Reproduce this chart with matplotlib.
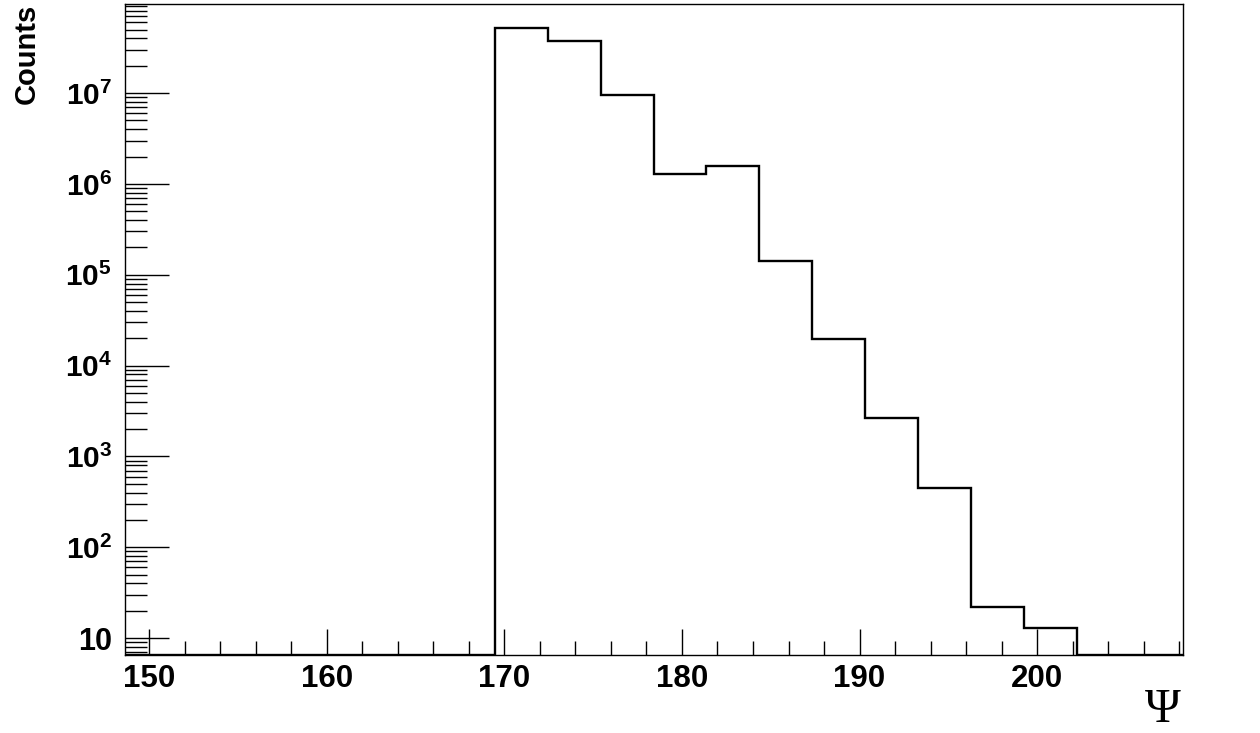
import numpy as np
import matplotlib
matplotlib.use("Agg")
import matplotlib.pyplot as plt
from matplotlib.ticker import LogLocator, MultipleLocator, NullFormatter

plt.rcParams['font.family'] = ['Liberation Sans', 'DejaVu Sans']
plt.rcParams['font.weight'] = 'bold'
plt.rcParams['mathtext.fontset'] = 'custom'
plt.rcParams['mathtext.rm'] = 'Liberation Sans:bold'
plt.rcParams['mathtext.bf'] = 'Liberation Sans:bold'
plt.rcParams['mathtext.it'] = 'Liberation Sans:bold'

# Data
x_min, x_max, n_bins = 148.62, 208.18, 20
counts = [0, 0, 0, 0, 0, 0, 0,
          5.22e7, 3.73e7, 9.44e6, 1.28e6, 1.58e6, 1.43e5, 1.97e4,
          2.64e3, 444, 22, 13, 0, 0]
x_ticks = [150, 160, 170, 180, 190, 200]
y_ticks = [1e1, 1e2, 1e3, 1e4, 1e5, 1e6, 1e7]
y_tick_labels = ['10', r'$10^{2}$', r'$10^{3}$', r'$10^{4}$', r'$10^{5}$',
                 r'$10^{6}$', r'$10^{7}$']
y_min, y_max = 6.6, 9.7e7

edges = np.linspace(x_min, x_max, n_bins + 1)
vals = np.array(counts, dtype=float)
vals = np.where(vals > 0, vals, y_min)

fig = plt.figure(figsize=(12.6, 7.33), dpi=100)
ax = fig.add_axes([124.5 / 1260, 1 - 654.5 / 733, (1182.5 - 124.5) / 1260, (654.5 - 3.5) / 733])

ax.stairs(vals, edges, baseline=None, color='black', linewidth=1.7)

ax.set_yscale('log')
ax.set_xlim(x_min, x_max)
ax.set_ylim(y_min, y_max)

ax.set_xticks(x_ticks, [str(t) for t in x_ticks])
ax.xaxis.set_minor_locator(MultipleLocator(2))
ax.set_yticks(y_ticks, y_tick_labels)
ax.yaxis.set_minor_locator(LogLocator(base=10, subs=np.arange(2, 10), numticks=20))
ax.yaxis.set_minor_formatter(NullFormatter())

ax.tick_params(axis='both', which='both', direction='in', colors='black', width=1)
ax.tick_params(axis='x', which='major', length=19, pad=7, labelsize=22.5)
ax.tick_params(axis='x', which='minor', length=10)
ax.tick_params(axis='y', which='major', length=32, pad=9, labelsize=21.5)
ax.tick_params(axis='y', which='minor', length=16)
ax.tick_params(top=False, right=False)
for lab in ax.get_xticklabels() + ax.get_yticklabels():
    lab.set_fontweight('bold')
for lab in ax.get_yticklabels():
    if lab.get_text() == '10':
        lab.set_fontsize(22)

for s in ax.spines.values():
    s.set_linewidth(1)
    s.set_color('black')

ax.text((26.5 - 124.5) / 1058, 1.0, 'Counts', transform=ax.transAxes,
        rotation=90, ha='center', va='top', fontsize=21, fontweight='bold')
fig.text(1181 / 1260, 1 - 710 / 733, '\u03a8', ha='right', va='center',
         fontsize=35, family=['Liberation Serif', 'DejaVu Serif'], fontweight='normal')

fig.savefig('out.png', dpi=100, facecolor='white')
